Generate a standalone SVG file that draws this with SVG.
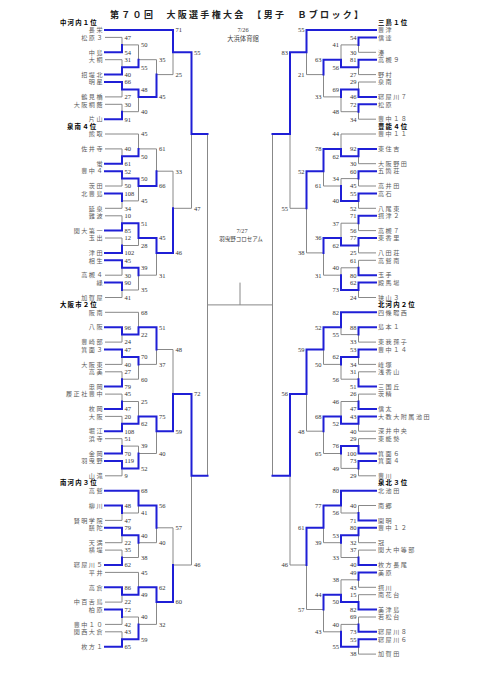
<svg xmlns="http://www.w3.org/2000/svg" width="481" height="680" viewBox="0 0 481 680">
<style>
.g{fill:none;stroke:#888;stroke-width:1}
.b{fill:none;stroke:#1f1fd6;stroke-width:2;stroke-linecap:square}
.s{font-family:"Liberation Serif",serif;font-size:6.5px;fill:#333}
.e{text-anchor:end}
.n{font-family:"Liberation Serif","Noto Sans CJK JP",serif;font-size:6.1px;fill:#5a5a5a;letter-spacing:1.5px}
.h{font-family:"Liberation Serif","Noto Sans CJK JP",serif;font-size:6.4px;font-weight:bold;fill:#000;letter-spacing:1.2px}
.t{font-family:"Liberation Serif","Noto Sans CJK JP",serif;font-size:9px;font-weight:bold;fill:#222}
.c{font-family:"Liberation Serif","Noto Sans CJK JP",serif;font-size:6.3px;fill:#444;text-anchor:middle}
</style>
<rect width="481" height="680" fill="#fff"/>
<g id="title">
<text class="t" x="110" y="18" textLength="253" lengthAdjust="spacing">第７０回　大阪選手権大会　【男子　Ｂブロック】</text>
<text class="c" x="243" y="32">7/26</text>
<text class="c" x="243" y="40.5">大浜体育館</text>
<text class="c" x="242" y="233">7/27</text>
<text class="c" x="241" y="241" style="font-size:5.5px">羽曳野コロセアム</text>
</g>
<g id="connectors">
<path class="g" d="M105 37.4H122V44.9M105 59.7H122V67.2M105 96.9H122V89.4M105 104.3H122V111.7M122 44.9H138.5V59.7M122 111.7H138.5V96.9M138.5 59.7H156.5V74.6M156.5 74.6H173V52.3
M105 148.9H122V156.3M105 186H122V178.6M105 208.3H122V200.9M105 215.8H122V223.2M105 238H122V245.5M105 275.2H122V267.8M105 297.5H122V290M105 134H138.5V148.9M122 200.9H138.5V186M122 245.5H138.5V238M122 290H138.5V275.2M138.5 148.9H156.5V171.2M138.5 275.2H156.5V252.9M156.5 171.2H173V208.3M173 208.3H191.5V134
M105 342.1H122V334.6M105 364.4H122V356.9M105 371.8H122V379.2M105 394.1H122V401.5M105 416.4H122V423.8M105 438.7H122V446.1M105 475.8H122V468.4M105 312.3H138.5V327.2M122 379.2H138.5V364.4M122 401.5H138.5V416.4M122 446.1H138.5V453.5M138.5 364.4H156.5V349.5M138.5 453.5H156.5V431.2M156.5 349.5H173V394.1
M105 520.4H122V513M105 542.7H122V535.2M105 550.1H122V557.5M105 602.1H122V594.7M105 624.4H122V617M105 631.8H122V639.3M122 513H138.5V505.5M122 557.5H138.5V542.7M105 572.4H138.5V587.3M122 617H138.5V624.4M138.5 542.7H156.5V527.8M138.5 624.4H156.5V602.1M156.5 527.8H173V565M173 565H191.5V475.8
M207.5 134V475.8M272.5 134V475.8M207.5 304.9H272.5M240 282.6V304.9
M376 52.3H358.5V44.9M376 74.6H358.5V67.2M376 82H358.5V89.4M376 119.2H358.5V111.7M358.5 44.9H341V59.7M358.5 111.7H341V96.9M341 96.9H323.5V74.6M323.5 74.6H306.5V52.3
M376 163.7H358.5V156.3M376 186H358.5V178.6M376 208.3H358.5V200.9M376 230.6H358.5V223.2M376 252.9H358.5V245.5M376 260.3H358.5V267.8M376 297.5H358.5V290M376 134H341V148.9M358.5 178.6H341V186M358.5 223.2H341V238M358.5 267.8H341V275.2M341 186H323.5V171.2M341 275.2H323.5V252.9M323.5 252.9H306.5V208.3M306.5 208.3H290V134
M376 342.1H358.5V334.6M376 364.4H358.5V356.9M376 371.8H358.5V379.2M376 394.1H358.5V401.5M376 431.2H358.5V423.8M376 438.7H358.5V446.1M376 475.8H358.5V468.4M358.5 334.6H341V327.2M358.5 379.2H341V364.4M358.5 401.5H341V416.4M358.5 468.4H341V453.5M341 364.4H323.5V349.5M341 453.5H323.5V431.2M323.5 431.2H306.5V394.1
M376 505.5H358.5V513M376 542.7H358.5V535.2M376 550.1H358.5V557.5M376 587.3H358.5V579.8M376 594.7H358.5V602.1M376 617H358.5V624.4M376 654.1H358.5V646.7M358.5 513H341V505.5M358.5 557.5H341V542.7M358.5 579.8H341V594.7M358.5 624.4H341V631.8M341 542.7H323.5V527.8M341 631.8H323.5V609.5M323.5 609.5H306.5V565M306.5 565H290V475.8"/>
<path class="b" d="M105 52.3H122V44.9M105 74.6H122V67.2M105 82H122V89.4M105 119.2H122V111.7M122 67.2H138.5V59.7M122 89.4H138.5V96.9M138.5 96.9H156.5V74.6M105 30H173V52.3
M105 163.7H122V156.3M105 171.2H122V178.6M105 193.5H122V200.9M105 230.6H122V223.2M105 252.9H122V245.5M105 260.3H122V267.8M105 282.6H122V290M122 156.3H138.5V148.9M122 178.6H138.5V186M122 223.2H138.5V238M122 267.8H138.5V275.2M138.5 186H156.5V171.2M138.5 238H156.5V252.9M156.5 252.9H173V208.3M173 52.3H191.5V134M191.5 134H207.5
M105 327.2H122V334.6M105 349.5H122V356.9M105 386.6H122V379.2M105 408.9H122V401.5M105 431.2H122V423.8M105 453.5H122V446.1M105 460.9H122V468.4M122 334.6H138.5V327.2M122 356.9H138.5V364.4M122 423.8H138.5V416.4M122 468.4H138.5V453.5M138.5 327.2H156.5V349.5M138.5 416.4H156.5V431.2M156.5 431.2H173V394.1
M105 505.5H122V513M105 527.8H122V535.2M105 565H122V557.5M105 587.3H122V594.7M105 609.5H122V617M105 646.7H122V639.3M105 490.7H138.5V505.5M122 535.2H138.5V542.7M122 594.7H138.5V587.3M122 639.3H138.5V624.4M138.5 505.5H156.5V527.8M138.5 587.3H156.5V602.1M156.5 602.1H173V565M173 394.1H191.5V475.8M191.5 475.8H207.5
M376 37.4H358.5V44.9M376 59.7H358.5V67.2M376 96.9H358.5V89.4M376 104.3H358.5V111.7M358.5 67.2H341V59.7M358.5 89.4H341V96.9M341 59.7H323.5V74.6M376 30H306.5V52.3
M376 148.9H358.5V156.3M376 171.2H358.5V178.6M376 193.5H358.5V200.9M376 215.8H358.5V223.2M376 238H358.5V245.5M376 275.2H358.5V267.8M376 282.6H358.5V290M358.5 156.3H341V148.9M358.5 200.9H341V186M358.5 245.5H341V238M358.5 290H341V275.2M341 148.9H323.5V171.2M341 238H323.5V252.9M323.5 171.2H306.5V208.3M306.5 52.3H290V134M290 134H272.5
M376 327.2H358.5V334.6M376 349.5H358.5V356.9M376 386.6H358.5V379.2M376 408.9H358.5V401.5M376 416.4H358.5V423.8M376 453.5H358.5V446.1M376 460.9H358.5V468.4M376 312.3H341V327.2M358.5 356.9H341V364.4M358.5 423.8H341V416.4M358.5 446.1H341V453.5M341 327.2H323.5V349.5M341 416.4H323.5V431.2M323.5 349.5H306.5V394.1
M376 520.4H358.5V513M376 527.8H358.5V535.2M376 565H358.5V557.5M376 572.4H358.5V579.8M376 609.5H358.5V602.1M376 631.8H358.5V624.4M376 639.3H358.5V646.7M376 490.7H341V505.5M358.5 535.2H341V542.7M358.5 602.1H341V594.7M358.5 646.7H341V631.8M341 505.5H323.5V527.8M341 594.7H323.5V609.5M323.5 527.8H306.5V565M306.5 394.1H290V475.8M290 475.8H272.5"/>
<g class="s">
<text x="124.5" y="39.7">47</text><text x="124.5" y="54.6">54</text><text x="124.5" y="62">31</text><text x="124.5" y="76.9">40</text><text x="124.5" y="84.3">66</text><text x="124.5" y="99.2">27</text><text x="124.5" y="106.6">30</text><text x="124.5" y="121.5">91</text>
<text x="141" y="47.2">50</text><text x="141" y="69.5">55</text><text x="141" y="91.7">48</text><text x="141" y="114">40</text>
<text x="159" y="62">35</text><text x="159" y="99.2">45</text>
<text x="175.5" y="32.3">71</text><text x="175.5" y="76.9">25</text>
<text x="124.5" y="151.2">40</text><text x="124.5" y="166">61</text><text x="124.5" y="173.5">52</text><text x="124.5" y="188.3">50</text><text x="124.5" y="195.8">108</text><text x="124.5" y="210.6">34</text><text x="124.5" y="218.1">10</text><text x="124.5" y="232.9">85</text><text x="124.5" y="240.3">12</text><text x="124.5" y="255.2">102</text><text x="124.5" y="262.6">45</text><text x="124.5" y="277.5">30</text><text x="124.5" y="284.9">90</text><text x="124.5" y="299.8">41</text>
<text x="141" y="136.3">45</text><text x="141" y="158.6">50</text><text x="141" y="180.9">50</text><text x="141" y="203.2">45</text><text x="141" y="225.5">51</text><text x="141" y="247.8">28</text><text x="141" y="270.1">39</text><text x="141" y="292.3">35</text>
<text x="159" y="151.2">61</text><text x="159" y="188.3">66</text><text x="159" y="240.3">45</text><text x="159" y="277.5">31</text>
<text x="175.5" y="173.5">33</text><text x="175.5" y="255.2">46</text>
<text x="194" y="54.6">55</text><text x="194" y="210.6">47</text>
<text x="124.5" y="329.5">96</text><text x="124.5" y="344.4">24</text><text x="124.5" y="351.8">47</text><text x="124.5" y="366.7">40</text><text x="124.5" y="374.1">27</text><text x="124.5" y="388.9">79</text><text x="124.5" y="396.4">45</text><text x="124.5" y="411.2">47</text><text x="124.5" y="418.7">20</text><text x="124.5" y="433.5">108</text><text x="124.5" y="441">51</text><text x="124.5" y="455.8">70</text><text x="124.5" y="463.2">119</text><text x="124.5" y="478.1">9</text>
<text x="141" y="314.6">68</text><text x="141" y="336.9">22</text><text x="141" y="359.2">70</text><text x="141" y="381.5">60</text><text x="141" y="403.8">25</text><text x="141" y="426.1">62</text><text x="141" y="448.4">39</text><text x="141" y="470.7">52</text>
<text x="159" y="329.5">51</text><text x="159" y="366.7">37</text><text x="159" y="418.7">75</text><text x="159" y="455.8">40</text>
<text x="175.5" y="351.8">48</text><text x="175.5" y="433.5">59</text>
<text x="124.5" y="507.8">48</text><text x="124.5" y="522.7">47</text><text x="124.5" y="530.1">79</text><text x="124.5" y="545">22</text><text x="124.5" y="552.4">35</text><text x="124.5" y="567.3">62</text><text x="124.5" y="589.6">86</text><text x="124.5" y="604.4">22</text><text x="124.5" y="611.8">72</text><text x="124.5" y="626.7">42</text><text x="124.5" y="634.1">43</text><text x="124.5" y="649">65</text>
<text x="141" y="493">68</text><text x="141" y="515.3">41</text><text x="141" y="537.5">40</text><text x="141" y="559.8">38</text><text x="141" y="574.7">45</text><text x="141" y="597">49</text><text x="141" y="619.3">40</text><text x="141" y="641.6">59</text>
<text x="159" y="507.8">56</text><text x="159" y="545">40</text><text x="159" y="589.6">62</text><text x="159" y="626.7">32</text>
<text x="175.5" y="530.1">57</text><text x="175.5" y="604.4">60</text>
<text x="194" y="396.4">72</text><text x="194" y="567.3">46</text>
</g>
<g class="s e">
<text x="356.5" y="39.7">54</text><text x="356.5" y="54.6">30</text><text x="356.5" y="62">81</text><text x="356.5" y="76.9">27</text><text x="356.5" y="84.3">29</text><text x="356.5" y="99.2">46</text><text x="356.5" y="106.6">72</text><text x="356.5" y="121.5">34</text>
<text x="339" y="47.2">41</text><text x="339" y="69.5">56</text><text x="339" y="91.7">69</text><text x="339" y="114">48</text>
<text x="321.5" y="62">63</text><text x="321.5" y="99.2">33</text>
<text x="304.5" y="32.3">55</text><text x="304.5" y="76.9">21</text>
<text x="356.5" y="151.2">92</text><text x="356.5" y="166">30</text><text x="356.5" y="173.5">60</text><text x="356.5" y="188.3">45</text><text x="356.5" y="195.8">55</text><text x="356.5" y="210.6">52</text><text x="356.5" y="218.1">71</text><text x="356.5" y="232.9">56</text><text x="356.5" y="240.3">77</text><text x="356.5" y="255.2">25</text><text x="356.5" y="262.6">61</text><text x="356.5" y="277.5">80</text><text x="356.5" y="284.9">62</text><text x="356.5" y="299.8">24</text>
<text x="339" y="136.3">44</text><text x="339" y="158.6">62</text><text x="339" y="180.9">34</text><text x="339" y="203.2">40</text><text x="339" y="225.5">37</text><text x="339" y="247.8">62</text><text x="339" y="270.1">40</text><text x="339" y="292.3">73</text>
<text x="321.5" y="151.2">78</text><text x="321.5" y="188.3">61</text><text x="321.5" y="240.3">36</text><text x="321.5" y="277.5">31</text>
<text x="304.5" y="173.5">52</text><text x="304.5" y="255.2">38</text>
<text x="288" y="54.6">83</text><text x="288" y="210.6">55</text>
<text x="356.5" y="329.5">88</text><text x="356.5" y="344.4">33</text><text x="356.5" y="351.8">53</text><text x="356.5" y="366.7">34</text><text x="356.5" y="374.1">31</text><text x="356.5" y="388.9">51</text><text x="356.5" y="396.4">26</text><text x="356.5" y="411.2">47</text><text x="356.5" y="418.7">43</text><text x="356.5" y="433.5">40</text><text x="356.5" y="441">29</text><text x="356.5" y="455.8">100</text><text x="356.5" y="463.2">73</text><text x="356.5" y="478.1">29</text>
<text x="339" y="314.6">82</text><text x="339" y="336.9">55</text><text x="339" y="359.2">62</text><text x="339" y="381.5">56</text><text x="339" y="403.8">46</text><text x="339" y="426.1">52</text><text x="339" y="448.4">76</text><text x="339" y="470.7">49</text>
<text x="321.5" y="329.5">52</text><text x="321.5" y="366.7">50</text><text x="321.5" y="418.7">68</text><text x="321.5" y="455.8">65</text>
<text x="304.5" y="351.8">59</text><text x="304.5" y="433.5">48</text>
<text x="356.5" y="507.8">40</text><text x="356.5" y="522.7">71</text><text x="356.5" y="530.1">80</text><text x="356.5" y="545">32</text><text x="356.5" y="552.4">37</text><text x="356.5" y="567.3">40</text><text x="356.5" y="574.7">49</text><text x="356.5" y="589.6">43</text><text x="356.5" y="597">15</text><text x="356.5" y="611.8">82</text><text x="356.5" y="619.3">69</text><text x="356.5" y="634.1">73</text><text x="356.5" y="641.6">55</text><text x="356.5" y="656.4">38</text>
<text x="339" y="493">80</text><text x="339" y="515.3">56</text><text x="339" y="537.5">53</text><text x="339" y="559.8">33</text><text x="339" y="582.1">38</text><text x="339" y="604.4">50</text><text x="339" y="626.7">40</text><text x="339" y="649">55</text>
<text x="321.5" y="507.8">77</text><text x="321.5" y="545">39</text><text x="321.5" y="597">44</text><text x="321.5" y="634.1">43</text>
<text x="304.5" y="530.1">61</text><text x="304.5" y="611.8">57</text>
<text x="288" y="396.4">56</text><text x="288" y="567.3">46</text>
</g>
</g>
<g id="headers">
<text class="h" x="60" y="24.8">中河内１位</text>
<text class="h" x="67" y="128.8">泉南４位</text>
<text class="h" x="60" y="307.1">大阪市２位</text>
<text class="h" x="60" y="485.4">南河内３位</text>
<text class="h" x="378" y="24.8">三島１位</text>
<text class="h" x="378" y="128.8">豊能４位</text>
<text class="h" x="378" y="307.1">北河内２位</text>
<text class="h" x="378" y="485.4">泉北３位</text>
</g>
<g class="n e">
<g id="L00"><text x="104" y="32.2">長栄</text></g>
<g id="L01"><text x="104" y="39.6">松原３</text></g>
<g id="L03"><text x="104" y="54.5">中島</text></g>
<g id="L04"><text x="104" y="61.9">大桐</text></g>
<g id="L06"><text x="104" y="76.8">招堤北</text></g>
<g id="L07"><text x="104" y="84.2">明星</text></g>
<g id="L09"><text x="104" y="99.1">鶴見橋</text></g>
<g id="L10"><text x="104" y="106.5">大阪桐蔭</text></g>
<g id="L12"><text x="104" y="121.4">片山</text></g>
<g id="L14"><text x="104" y="136.2">熊取</text></g>
<g id="L16"><text x="104" y="151.1">佐井寺</text></g>
<g id="L18"><text x="104" y="165.9">蛍</text></g>
<g id="L19"><text x="104" y="173.4">豊中４</text></g>
<g id="L21"><text x="104" y="188.2">茨田</text></g>
<g id="L22"><text x="104" y="195.7">北豊島</text></g>
<g id="L24"><text x="104" y="210.5">延泉</text></g>
<g id="L25"><text x="104" y="218">難波</text></g>
<g id="L27"><text x="104" y="232.8">関大第一</text></g>
<g id="L28"><text x="104" y="240.2">玉出</text></g>
<g id="L30"><text x="104" y="255.1">津田</text></g>
<g id="L31"><text x="104" y="262.5">相生</text></g>
<g id="L33"><text x="104" y="277.4">高槻４</text></g>
<g id="L34"><text x="104" y="284.8">緑</text></g>
<g id="L36"><text x="104" y="299.7">加賀屋</text></g>
<g id="L38"><text x="104" y="314.5">阪南</text></g>
<g id="L40"><text x="104" y="329.4">八阪</text></g>
<g id="L42"><text x="104" y="344.3">豊崎部</text></g>
<g id="L43"><text x="104" y="351.7">箕面３</text></g>
<g id="L45"><text x="104" y="366.6">大阪東</text></g>
<g id="L46"><text x="104" y="374">高美</text></g>
<g id="L48"><text x="104" y="388.8">忠岡</text></g>
<g id="L49"><text x="104" y="396.3">履正社豊中</text></g>
<g id="L51"><text x="104" y="411.1">枚岡</text></g>
<g id="L52"><text x="104" y="418.6">大阪</text></g>
<g id="L54"><text x="104" y="433.4">堀江</text></g>
<g id="L55"><text x="104" y="440.9">浜寺</text></g>
<g id="L57"><text x="104" y="455.7">金岡</text></g>
<g id="L58"><text x="104" y="463.1">羽曳野</text></g>
<g id="L60"><text x="104" y="478">山滝</text></g>
<g id="L62"><text x="104" y="492.9">高鷲</text></g>
<g id="L64"><text x="104" y="507.7">柳川</text></g>
<g id="L66"><text x="104" y="522.6">賢明学院</text></g>
<g id="L67"><text x="104" y="530">膳陀</text></g>
<g id="L69"><text x="104" y="544.9">天満</text></g>
<g id="L70"><text x="104" y="552.3">横堤</text></g>
<g id="L72"><text x="104" y="567.2">寝屋川５</text></g>
<g id="L73"><text x="104" y="574.6">平井</text></g>
<g id="L75"><text x="104" y="589.5">高倉</text></g>
<g id="L77"><text x="104" y="604.3">中百舌鳥</text></g>
<g id="L78"><text x="104" y="611.7">柏原</text></g>
<g id="L80"><text x="104" y="626.6">豊中１０</text></g>
<g id="L81"><text x="104" y="634">関西大倉</text></g>
<g id="L83"><text x="104" y="648.9">枚方１</text></g>
</g>
<g class="n">
<g id="R00"><text x="378" y="32.2">豊津</text></g>
<g id="R01"><text x="378" y="39.6">信達</text></g>
<g id="R03"><text x="378" y="54.5">湊</text></g>
<g id="R04"><text x="378" y="61.9">高槻９</text></g>
<g id="R06"><text x="378" y="76.8">野村</text></g>
<g id="R07"><text x="378" y="84.2">泉南</text></g>
<g id="R09"><text x="378" y="99.1">寝屋川７</text></g>
<g id="R10"><text x="378" y="106.5">松原</text></g>
<g id="R12"><text x="378" y="121.4">豊中１８</text></g>
<g id="R14"><text x="378" y="136.2">豊中１１</text></g>
<g id="R16"><text x="378" y="151.1">東住吉</text></g>
<g id="R18"><text x="378" y="165.9">大阪野田</text></g>
<g id="R19"><text x="378" y="173.4">五箇荘</text></g>
<g id="R21"><text x="378" y="188.2">高井田</text></g>
<g id="R22"><text x="378" y="195.7">高石</text></g>
<g id="R24"><text x="378" y="210.5">八尾東</text></g>
<g id="R25"><text x="378" y="218">摂津２</text></g>
<g id="R27"><text x="378" y="232.8">高槻７</text></g>
<g id="R28"><text x="378" y="240.2">東香里</text></g>
<g id="R30"><text x="378" y="255.1">八田荘</text></g>
<g id="R31"><text x="378" y="262.5">高鷲南</text></g>
<g id="R33"><text x="378" y="277.4">玉手</text></g>
<g id="R34"><text x="378" y="284.8">殿馬場</text></g>
<g id="R36"><text x="378" y="299.7">狭山３</text></g>
<g id="R38"><text x="378" y="314.5">四條畷西</text></g>
<g id="R40"><text x="378" y="329.4">島本１</text></g>
<g id="R42"><text x="378" y="344.3">東我孫子</text></g>
<g id="R43"><text x="378" y="351.7">豊中１４</text></g>
<g id="R45"><text x="378" y="366.6">峰塚</text></g>
<g id="R46"><text x="378" y="374">浅香山</text></g>
<g id="R48"><text x="378" y="388.8">三国丘</text></g>
<g id="R49"><text x="378" y="396.3">茨精</text></g>
<g id="R51"><text x="378" y="411.1">信太</text></g>
<g id="R52"><text x="378" y="418.6">大教大附属池田</text></g>
<g id="R54"><text x="378" y="433.4">深井中央</text></g>
<g id="R55"><text x="378" y="440.9">東能勢</text></g>
<g id="R57"><text x="378" y="455.7">箕面６</text></g>
<g id="R58"><text x="378" y="463.1">箕面４</text></g>
<g id="R60"><text x="378" y="478">豊川</text></g>
<g id="R62"><text x="378" y="492.9">北池田</text></g>
<g id="R64"><text x="378" y="507.7">南郷</text></g>
<g id="R66"><text x="378" y="522.6">開明</text></g>
<g id="R67"><text x="378" y="530">豊中１２</text></g>
<g id="R69"><text x="378" y="544.9">冠</text></g>
<g id="R70"><text x="378" y="552.3">関大中等部</text></g>
<g id="R72"><text x="378" y="567.2">枚方長尾</text></g>
<g id="R73"><text x="378" y="574.6">美原</text></g>
<g id="R75"><text x="378" y="589.5">摂川</text></g>
<g id="R76"><text x="378" y="596.9">南花台</text></g>
<g id="R78"><text x="378" y="611.7">美津島</text></g>
<g id="R79"><text x="378" y="619.2">若松台</text></g>
<g id="R81"><text x="378" y="634">寝屋川８</text></g>
<g id="R82"><text x="378" y="641.5">寝屋川６</text></g>
<g id="R84"><text x="378" y="656.3">加賀田</text></g>
</g>
</svg>
